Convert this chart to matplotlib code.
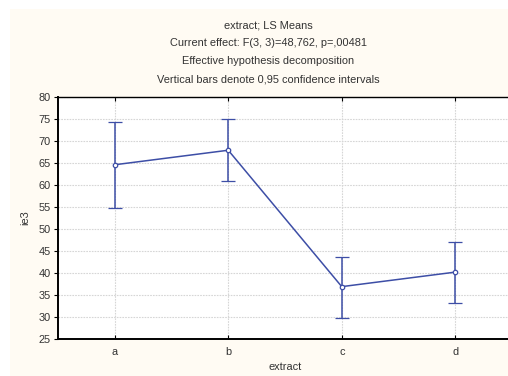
import numpy as np
import matplotlib.pyplot as plt
from matplotlib.patches import Rectangle

plt.rcParams['font.family'] = ['Liberation Sans', 'DejaVu Sans']

# dados
categorias = ['a', 'b', 'c', 'd']
medias = [64.6, 67.9, 36.9, 40.2]
ic_inf = [54.8, 61.0, 29.8, 33.2]
ic_sup = [74.4, 74.9, 43.7, 47.0]
titulos = ["extract; LS Means",
           "Current effect: F(3, 3)=48,762, p=,00481",
           "Effective hypothesis decomposition",
           "Vertical bars denote 0,95 confidence intervals"]

W, H = 508, 376
fs = 7.9
fig = plt.figure(figsize=(W/100, H/100), dpi=100)
fig.patch.set_facecolor('white')
fig.patches.append(Rectangle((10/W, 0), 1, 1 - 9/H, transform=fig.transFigure,
                             facecolor='#fffbf3', edgecolor='none', zorder=-10))

ax = fig.add_axes([58/W, (H-339)/H, 454/W, 242/H])
ax.set_facecolor('white')

x = np.arange(len(categorias))
med = np.array(medias)
err = [med - np.array(ic_inf), np.array(ic_sup) - med]
azul = '#3d4ea6'
ax.errorbar(x, med, yerr=err, color=azul, lw=1.1, capsize=5, capthick=1.1,
            marker='o', ms=3.2, mfc='white', mec=azul, mew=0.9, zorder=3)

ax.set_xlim(-0.5, 3.5)
ax.set_ylim(25, 80)
ax.set_xticks(x)
ax.set_xticklabels(categorias)
ax.set_yticks(np.arange(25, 81, 5))
ax.grid(True, color='#d6d6d6', ls=(0, (1.5, 1)), lw=0.8)
ax.set_axisbelow(True)

ax.tick_params(axis='x', direction='in', top=True, length=3, labelsize=fs,
               colors='black', labelcolor='#333333', pad=6)
ax.tick_params(axis='y', direction='out', length=3, labelsize=fs,
               labelcolor='#333333', pad=2)
for lado in ['left', 'bottom']:
    ax.spines[lado].set_linewidth(1.4)
ax.spines['top'].set_linewidth(1.0)
ax.spines['right'].set_visible(False)

ax.set_xlabel('extract', fontsize=fs, color='#333333', labelpad=3)
ax.set_ylabel('ie3', fontsize=fs, color='#333333', labelpad=6)

for k, txt in enumerate(titulos):
    fig.text(0.5 + 14/W, 1 - (25 + 18*k)/H, txt, ha='center', va='center',
             fontsize=fs, color='#333333')

fig.savefig('out.png', dpi=100, facecolor=fig.get_facecolor())
